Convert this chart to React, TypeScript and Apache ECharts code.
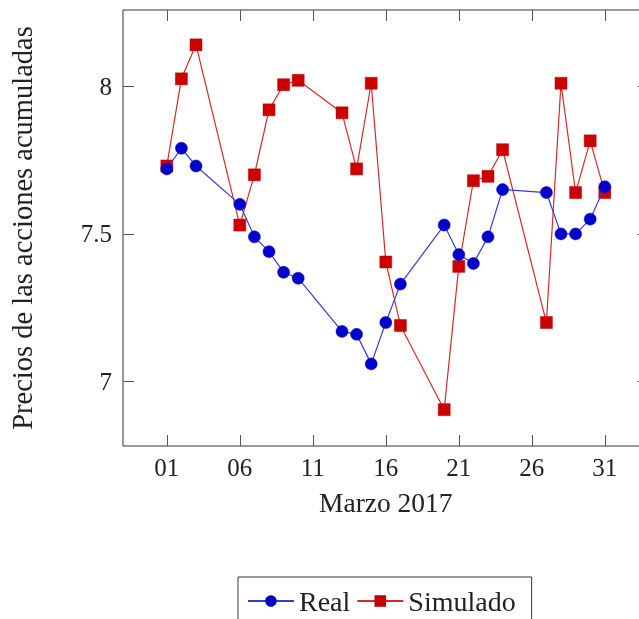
import React, { useEffect, useRef } from "react";
import * as echarts from "echarts";

const days = [1, 2, 3, 6, 7, 8, 9, 10, 13, 14, 15, 16, 17, 20, 21, 22, 23, 24, 27, 28, 29, 30, 31];
const realValues = [7.72, 7.79, 7.73, 7.6, 7.49, 7.44, 7.37, 7.35, 7.17, 7.16, 7.06, 7.2, 7.33, 7.53, 7.43, 7.4, 7.49, 7.65, 7.64, 7.5, 7.5, 7.55, 7.66];
const simValues = [7.73, 8.025, 8.14, 7.53, 7.7, 7.92, 8.005, 8.02, 7.91, 7.72, 8.01, 7.405, 7.19, 6.905, 7.39, 7.68, 7.695, 7.785, 7.2, 8.01, 7.64, 7.815, 7.64];
const xTicks = [1, 6, 11, 16, 21, 26, 31];
const yTicks = [7, 7.5, 8];
const seriesNames = ["Real", "Simulado"];

const FONT = "'Liberation Serif', 'Times New Roman', serif";

export default function App() {
  const ref = useRef<HTMLDivElement>(null);
  useEffect(() => {
    if (!ref.current) return;
    const chart = echarts.init(ref.current, null, { renderer: "svg" });
    const tickStyle = { show: true, inside: true, length: 11, lineStyle: { color: "#555", width: 1 } };
    const xBase = {
      type: "value",
      min: -2,
      max: 34,
      splitLine: { show: false },
      axisLine: { show: false, onZero: false },
    };
    const yBase = {
      type: "value",
      min: 6.782,
      max: 8.258,
      splitLine: { show: false },
      axisLine: { show: false, onZero: false },
    };
    chart.setOption({
      animation: false,
      textStyle: { fontFamily: FONT },
      grid: {
        left: 123,
        top: 10,
        width: 525.6,
        height: 436,
        containLabel: false,
        outerBoundsMode: "none",
        show: true,
        borderColor: "#333",
        borderWidth: 1,
        backgroundColor: "transparent",
      },
      xAxis: [
        {
          ...xBase,
          position: "bottom",
          name: "Marzo 2017",
          nameLocation: "middle",
          nameGap: 42,
          nameTextStyle: { fontFamily: FONT, fontSize: 27.5, color: "#222" },
          axisTick: { ...tickStyle, customValues: xTicks },
          axisLabel: {
            show: true,
            customValues: xTicks,
            margin: 9,
            fontFamily: FONT,
            fontSize: 25,
            color: "#222",
            formatter: (v: number) => (v < 10 ? "0" + v : String(v)),
          },
        },
        {
          ...xBase,
          position: "top",
          axisTick: { ...tickStyle, customValues: xTicks },
          axisLabel: { show: false },
        },
      ],
      yAxis: [
        {
          ...yBase,
          position: "left",
          name: "Precios de las acciones acumuladas",
          nameLocation: "middle",
          nameRotate: 90,
          nameGap: 86,
          nameTextStyle: { fontFamily: FONT, fontSize: 28.5, color: "#222" },
          axisTick: { ...tickStyle, customValues: yTicks },
          axisLabel: {
            show: true,
            customValues: yTicks,
            margin: 11,
            fontFamily: FONT,
            fontSize: 25,
            color: "#222",
            formatter: (v: number) => String(v),
          },
        },
        {
          ...yBase,
          position: "right",
          axisTick: { ...tickStyle, customValues: yTicks },
          axisLabel: { show: false },
        },
      ],
      legend: {
        data: seriesNames,
        left: 238,
        top: 577,
        orient: "horizontal",
        padding: [10, 16, 10, 9],
        itemWidth: 46,
        itemHeight: 12,
        itemGap: 6,
        borderColor: "#333",
        borderWidth: 1,
        textStyle: { fontFamily: FONT, fontSize: 28, color: "#222" },
      },
      series: [
        {
          name: seriesNames[1],
          type: "line",
          xAxisIndex: 0,
          yAxisIndex: 0,
          z: 2,
          data: days.map((d, i) => [d, simValues[i]]),
          symbol: "rect",
          symbolSize: 12,
          showAllSymbol: true,
          itemStyle: { color: "#cc0000", borderColor: "#bb0000", borderWidth: 0.5 },
          lineStyle: { color: "#d62a2a", width: 1.2 },
        },
        {
          name: seriesNames[0],
          type: "line",
          xAxisIndex: 0,
          yAxisIndex: 0,
          z: 3,
          data: days.map((d, i) => [d, realValues[i]]),
          symbol: "circle",
          symbolSize: 12,
          showAllSymbol: true,
          itemStyle: { color: "#0000cc", borderColor: "#0000bb", borderWidth: 0.5 },
          lineStyle: { color: "#3a3ad0", width: 1.2 },
        },
      ],
    });
    return () => chart.dispose();
  }, []);
  return <div ref={ref} style={{ position: "fixed", left: 0, top: 0, width: 639, height: 619 }} />;
}
